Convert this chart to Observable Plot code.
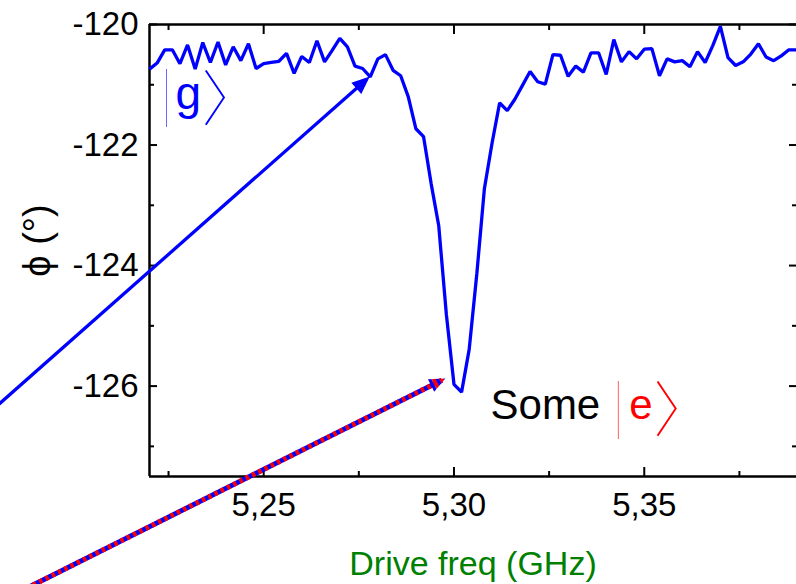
<!DOCTYPE html>
<html>
<head>
<meta charset="utf-8">
<script src="https://cdn.jsdelivr.net/npm/d3@7"></script>
<script src="https://cdn.jsdelivr.net/npm/@observablehq/plot@0.6"></script>
<style>
  html, body { margin: 0; padding: 0; background: #fff; }
  #chart svg { display: block; }
</style>
</head>
<body>
<div id="chart"></div>
<script>
// Drive frequency sweep (GHz) and measured phase (degrees)
const freq = [
  5.220, 5.222, 5.224, 5.226, 5.228, 5.230, 5.232, 5.234, 5.236, 5.238,
  5.240, 5.242, 5.244, 5.246, 5.248, 5.250, 5.252, 5.254, 5.256, 5.258,
  5.260, 5.262, 5.264, 5.266, 5.268, 5.270, 5.272, 5.274, 5.276, 5.278,
  5.280, 5.282, 5.284, 5.286, 5.288, 5.290, 5.292, 5.294, 5.296, 5.298,
  5.300, 5.302, 5.304, 5.306, 5.308, 5.310, 5.312, 5.314, 5.316, 5.318,
  5.320, 5.322, 5.324, 5.326, 5.328, 5.330, 5.332, 5.334, 5.336, 5.338,
  5.340, 5.342, 5.344, 5.346, 5.348, 5.350, 5.352, 5.354, 5.356, 5.358,
  5.360, 5.362, 5.364, 5.366, 5.368, 5.370, 5.372, 5.374, 5.376, 5.378,
  5.380, 5.382, 5.384, 5.386, 5.388, 5.390
];
const phase = [
  -120.74, -120.64, -120.42, -120.42, -120.65, -120.34, -120.74, -120.30, -120.63, -120.29,
  -120.67, -120.37, -120.60, -120.32, -120.73, -120.65, -120.63, -120.61, -120.48, -120.81,
  -120.53, -120.63, -120.27, -120.62, -120.43, -120.23, -120.37, -120.69, -120.73, -120.87,
  -120.57, -120.50, -120.76, -120.85, -121.20, -121.73, -121.86, -122.64, -123.34, -124.81,
  -125.97, -126.10, -125.39, -124.14, -122.72, -121.97, -121.30, -121.43, -121.24, -121.01,
  -120.78, -120.95, -120.99, -120.50, -120.51, -120.86, -120.69, -120.79, -120.47, -120.47,
  -120.83, -120.25, -120.62, -120.45, -120.57, -120.41, -120.40, -120.85, -120.57, -120.62,
  -120.60, -120.70, -120.45, -120.63, -120.35, -120.03, -120.55, -120.68, -120.62, -120.49,
  -120.32, -120.54, -120.60, -120.52, -120.42, -120.42
];

// Axes
const xDomain = [5.22, 5.39];
const yDomain = [-127.5, -120];
const xMajorTicks = [5.25, 5.30, 5.35];
const xTickLabels = ["5,25", "5,30", "5,35"];
const xMinorTicks = [5.225, 5.275, 5.325, 5.375];
const yMajorTicks = [-120, -122, -124, -126];
const yTickLabels = ["-120", "-122", "-124", "-126"];
const yMinorTicks = [-121, -123, -125, -127];
const xLabel = "Drive freq (GHz)";
const yLabel = "ϕ (°)";

// Annotations: arrows (tail -> head, in data units) and state labels
const arrowX1 = [5.1756, 5.1861];
const arrowY1 = [-126.57, -129.405];
const arrowX2 = [5.2771, 5.2968];
const arrowY2 = [-120.907, -125.902];
const ketX = [5.2237, 5.3424];
const ketY = [-121.396, -126.548];
const ketLetters = ["g", "e"];
const ketColors = ["#0000ff", "#ff0000"];
const noteX = [5.3096];
const noteY = [-126.548];
const noteText = ["Some"];

const sans = "'Liberation Sans', Arial, Helvetica, sans-serif";
const arrows = arrowX1.map((x1, i) => ({x1, y1: arrowY1[i], x2: arrowX2[i], y2: arrowY2[i]}));
const tickFmt = (ticks, labels) => d => labels[ticks.indexOf(d)];
const ketString = i => `|${ketLetters[i]}〉`;

// glyph placement inside each ket, relative to its anchor (px)
const ketLayout = [
  {bar: [-4, 7.5], letter: [12, 0, 46], bracket: [38.5, 12]},
  {bar: [-4, 8.5], letter: [14, 0, 42], bracket: [38.5, 13]}
];

const frame = {stroke: "#000", strokeWidth: 2.5};
const tickStyle = {fill: "none", label: null, strokeWidth: 2};
const ketMark = i => Plot.text([i], {
  x: d => ketX[d], y: d => ketY[d], text: ketString,
  textAnchor: "start", lineAnchor: "bottom", fill: ketColors[i], fontSize: 42
});

const chart = Plot.plot({
  width: 796,
  height: 584,
  marginTop: 24,
  marginBottom: 108,
  marginLeft: 149,
  marginRight: 0,
  x: {domain: xDomain},
  y: {domain: yDomain},
  style: {fontFamily: sans, fontSize: "33px", color: "#000", background: "#fff"},
  marks: [
    // inward ticks on all four sides
    Plot.axisX(xMajorTicks, {anchor: "bottom", tickSize: -9, ...tickStyle}),
    Plot.axisX(xMinorTicks, {anchor: "bottom", tickSize: -5, ...tickStyle}),
    Plot.axisX(xMajorTicks, {anchor: "top", tickSize: -9, ...tickStyle}),
    Plot.axisX(xMinorTicks, {anchor: "top", tickSize: -5, ...tickStyle}),
    Plot.axisY(yMajorTicks, {anchor: "left", tickSize: -8, ...tickStyle}),
    Plot.axisY(yMinorTicks, {anchor: "left", tickSize: -5, ...tickStyle}),
    Plot.axisY(yMajorTicks, {anchor: "right", tickSize: -8, ...tickStyle}),
    Plot.axisY(yMinorTicks, {anchor: "right", tickSize: -5, ...tickStyle}),
    // tick labels
    Plot.axisX(xMajorTicks, {anchor: "bottom", tickSize: 0, tickPadding: 16, tickFormat: tickFmt(xMajorTicks, xTickLabels), label: null, fontSize: 33}),
    Plot.axisY(yMajorTicks, {anchor: "left", tickSize: 0, tickPadding: 11, tickFormat: tickFmt(yMajorTicks, yTickLabels), label: null, fontSize: 33}),
    // frame (left, top, bottom)
    Plot.ruleX([xDomain[0]], frame),
    Plot.ruleY([yDomain[1]], frame),
    Plot.ruleY([yDomain[0]], frame),
    // axis titles
    Plot.text([yLabel], {frameAnchor: "left", textAnchor: "middle", lineAnchor: "middle", dx: -112, dy: -10, rotate: -90, fontSize: 38, fill: "#000"}),
    Plot.text([xLabel], {frameAnchor: "bottom", textAnchor: "middle", lineAnchor: "bottom", dy: 98, fontSize: 34, fill: "#008000"}),
    // measured phase
    Plot.lineY(phase, {x: freq, y: phase, stroke: "#0000ff", strokeWidth: 3.3, strokeLinejoin: "miter", strokeLinecap: "butt"}),
    // arrows
    Plot.link([arrows[0]], {x1: "x1", y1: "y1", x2: "x2", y2: "y2", stroke: "#0000ff", strokeWidth: 3.3}),
    Plot.link([arrows[1]], {x1: "x1", y1: "y1", x2: "x2", y2: "y2", stroke: "#0000ff", strokeWidth: 5}),
    Plot.link([arrows[1]], {x1: "x1", y1: "y1", x2: "x2", y2: "y2", stroke: "#ff0000", strokeWidth: 5, strokeDasharray: "3.5,3.5"}),
    // state labels
    ketMark(0),
    Plot.text(noteText, {x: noteX, y: noteY, textAnchor: "start", lineAnchor: "bottom", fontSize: 42, fill: "#000"}),
    ketMark(1)
  ]
});

const svg = d3.select(chart);

// kets: thin bar, letter in the label font, thin angle bracket
ketLetters.forEach((letter, i) => {
  const L = ketLayout[i];
  svg.selectAll("text").filter(function() { return this.textContent === ketString(i); }).each(function() {
    const t = d3.select(this).text("");
    t.append("tspan").attr("x", L.bar[0]).attr("y", L.bar[1])
      .attr("font-family", "Lato").attr("font-weight", 200).attr("font-size", 61).text("|");
    t.append("tspan").attr("x", L.letter[0]).attr("y", L.letter[1])
      .attr("font-size", L.letter[2]).text(letter);
    t.append("tspan").attr("x", L.bracket[0]).attr("y", L.bracket[1])
      .attr("font-family", "'Noto Sans CJK JP'").attr("font-weight", 100).attr("font-size", 60).text("〉");
  });
});

// filled arrowheads for the link marks
const defs = svg.insert("defs", ":first-child");
const pat = defs.append("pattern").attr("id", "stripes").attr("patternUnits", "userSpaceOnUse")
  .attr("width", 7).attr("height", 20).attr("y", -10);
pat.append("rect").attr("width", 3.5).attr("height", 20).attr("fill", "#0000ff");
pat.append("rect").attr("x", 3.5).attr("width", 3.5).attr("height", 20).attr("fill", "#ff0000");
function head(id, fill, len, half) {
  const m = defs.append("marker").attr("id", id).attr("markerUnits", "userSpaceOnUse")
    .attr("orient", "auto").attr("refX", len - 4).attr("refY", 0)
    .attr("markerWidth", 30).attr("markerHeight", 30).attr("overflow", "visible");
  m.append("path").attr("d", `M0,${-half}L${len},0L0,${half}Z`).attr("fill", fill);
}
head("head-blue", "#0000ff", 18, 7.5);
head("head-striped", "url(#stripes)", 16, 7);
const links = svg.selectAll('g[aria-label="link"]').nodes();
d3.select(links[0]).selectAll("path").attr("marker-end", "url(#head-blue)");
d3.select(links[2]).selectAll("path").attr("marker-end", "url(#head-striped)");

document.getElementById("chart").append(chart);
</script>
</body>
</html>
